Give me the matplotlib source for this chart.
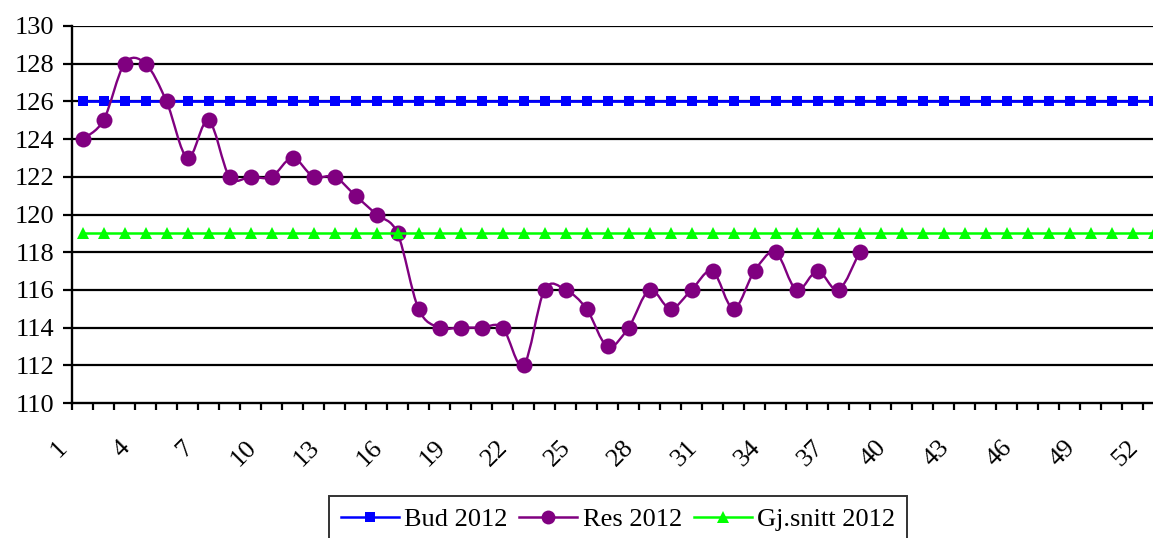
import matplotlib
matplotlib.use("Agg")
import matplotlib.pyplot as plt
import matplotlib.transforms as mtransforms
from matplotlib.path import Path
from matplotlib.patches import PathPatch
from matplotlib.lines import Line2D

plt.rcParams['font.family'] = ['Liberation Serif', 'DejaVu Serif']

# data
weeks = list(range(1, 53))
bud_2012 = [126] * 52
gj_snitt_2012 = [119] * 52
res_weeks = list(range(1, 39))
res_2012 = [124, 125, 128, 128, 126, 123, 125, 122, 122, 122, 123, 122, 122,
            121, 120, 119, 115, 114, 114, 114, 114, 112, 116, 116, 115, 113,
            114, 116, 115, 116, 117, 115, 117, 118, 116, 117, 116, 118]
y_ticks = list(range(110, 131, 2))
x_tick_weeks = list(range(1, 53, 3))

BLUE = '#0000FF'
PURPLE = '#800080'
GREEN = '#00FF00'
FS = 19


def smooth_path(xs, ys):
    # Excel-like smoothed line: cubic bezier through points (Catmull-Rom)
    pts = list(zip(xs, ys))
    n = len(pts)
    verts = [pts[0]]
    codes = [Path.MOVETO]
    for i in range(n - 1):
        p0 = pts[i - 1] if i > 0 else pts[i]
        p1 = pts[i]
        p2 = pts[i + 1]
        p3 = pts[i + 2] if i + 2 < n else pts[i + 1]
        c1 = (p1[0] + (p2[0] - p0[0]) / 6.0, p1[1] + (p2[1] - p0[1]) / 6.0)
        c2 = (p2[0] - (p3[0] - p1[0]) / 6.0, p2[1] - (p3[1] - p1[1]) / 6.0)
        verts += [c1, c2, p2]
        codes += [Path.CURVE4] * 3
    return Path(verts, codes)


W, H = 1153, 538
fig = plt.figure(figsize=(W / 100, H / 100), dpi=100)
left, right, top, bottom = 72, 1164, 26, 403
ax = fig.add_axes([left / W, 1 - bottom / H, (right - left) / W, (bottom - top) / H])

ax.set_xlim(0.5, 52.5)
ax.set_ylim(110, 130)

# horizontal gridlines
for v in y_ticks[1:]:
    ax.axhline(v, color='black', lw=1.6, zorder=1)

ax.plot(weeks, bud_2012, color=BLUE, lw=2.0, marker='s', markersize=7.5,
        markeredgewidth=0, zorder=3, clip_on=False)

patch = PathPatch(smooth_path(res_weeks, res_2012), facecolor='none',
                  edgecolor=PURPLE, lw=1.7, zorder=4)
ax.add_patch(patch)
ax.plot(res_weeks, res_2012, linestyle='none', marker='o', markersize=11.5,
        color=PURPLE, markeredgewidth=0, zorder=4)

ax.plot(weeks, gj_snitt_2012, color=GREEN, lw=1.8, marker='^', markersize=9,
        markeredgewidth=0, zorder=5, clip_on=False)

# axes styling
for s in ['top', 'right']:
    ax.spines[s].set_visible(False)
for s in ['left', 'bottom']:
    ax.spines[s].set_linewidth(1.7)
    ax.spines[s].set_color('black')
    ax.spines[s].set_zorder(6)

ax.set_yticks(y_ticks)
ax.set_yticklabels([str(v) for v in y_ticks], fontsize=FS)
ax.tick_params(axis='y', direction='out', length=6.5, width=1.6, pad=6)

ax.set_xticks(x_tick_weeks)
ax.set_xticklabels([str(v) for v in x_tick_weeks], fontsize=FS,
                   rotation=45, ha='right', va='top')
ax.set_xticks([k + 0.5 for k in range(0, 52)], minor=True)
ax.tick_params(axis='x', which='major', length=0, pad=24)
ax.tick_params(axis='x', which='minor', direction='out', length=5, width=1.6)
shift = mtransforms.ScaledTranslation(-0.11, 0, fig.dpi_scale_trans)
for lab in ax.get_xticklabels():
    lab.set_transform(lab.get_transform() + shift)

handles = [
    Line2D([], [], color=BLUE, lw=1.8, marker='s', markersize=7, markeredgewidth=0),
    Line2D([], [], color=PURPLE, lw=1.8, marker='o', markersize=10, markeredgewidth=0),
    Line2D([], [], color=GREEN, lw=1.8, marker='^', markersize=8, markeredgewidth=0),
]
leg = fig.legend(handles, ['Bud 2012', 'Res 2012', 'Gj.snitt 2012'],
                 loc='upper center', bbox_to_anchor=(618 / W, 1 - 496 / H),
                 ncol=3, fontsize=FS, frameon=True, fancybox=False,
                 handlelength=2.2, handletextpad=0.2, columnspacing=0.45,
                 borderpad=0.45, borderaxespad=0)
leg.get_frame().set_edgecolor('black')
leg.get_frame().set_linewidth(1.4)

fig.savefig('out.png', dpi=100)
